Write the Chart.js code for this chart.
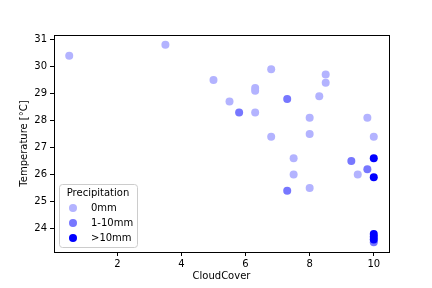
<!DOCTYPE html>
<html>
<head>
<meta charset="utf-8">
<script src="https://cdn.jsdelivr.net/npm/chart.js@4/dist/chart.umd.min.js"></script>
<style>
  html, body { margin: 0; padding: 0; background: #fff; }
  #wrap { width: 432px; height: 288px; }
</style>
</head>
<body>
<div id="wrap"><canvas id="myChart" width="432" height="288"></canvas></div>
<script>
// categories (precipitation classes) and their colours
const categories = ['0mm', '1-10mm', '>10mm'];
const colors = ['#b3b3ff', '#7777ff', '#0000ff'];

// cloud cover / temperature pairs, one pair of arrays per category
const cloud0 = [0.5, 3.5, 5, 5.5, 6.3, 6.3, 6.3, 6.8, 6.8, 7.5, 7.5, 8, 8, 8, 8.3, 8.5, 8.5, 9.5, 9.8, 10];
const temp0  = [30.4, 30.8, 29.5, 28.7, 28.3, 29.2, 29.1, 29.9, 27.4, 26.6, 26.0, 28.1, 27.5, 25.5, 28.9, 29.7, 29.4, 26.0, 28.1, 27.4];

const cloud1 = [5.8, 7.3, 7.3, 9.3, 9.8, 10];
const temp1  = [28.3, 28.8, 25.4, 26.5, 26.2, 23.5];

const cloud2 = [10, 10, 10, 10, 10];
const temp2  = [26.6, 25.9, 23.8, 23.7, 23.6];

// tick labels
const xTicks = [2, 4, 6, 8, 10];
const yTicks = [24, 25, 26, 27, 28, 29, 30, 31];

const FONT = 'DejaVu Sans';

function pts(xs, ys) {
    return xs.map((x, i) => ({ x: x, y: ys[i] }));
}

const seriesX = [cloud0, cloud1, cloud2];
const seriesY = [temp0, temp1, temp2];

// box round the plot + legend in lower left (like matplotlib)
const boxAndLegend = {
    id: 'boxAndLegend',
    afterDraw(chart) {
        const ctx = chart.ctx;
        const a = chart.chartArea;
        ctx.save();
        ctx.strokeStyle = '#000';
        ctx.lineWidth = 1;
        ctx.strokeRect(Math.round(a.left) + 0.5, Math.round(a.top) + 0.5,
                       Math.round(a.right - a.left), Math.round(a.bottom - a.top));

        // legend frame
        const lx = a.left + 5, ly = a.bottom - 68, lw = 78, lh = 63;
        ctx.beginPath();
        ctx.roundRect(lx + 0.5, ly + 0.5, lw, lh, 3);
        ctx.fillStyle = 'rgba(255,255,255,0.8)';
        ctx.fill();
        ctx.strokeStyle = '#cccccc';
        ctx.stroke();

        ctx.fillStyle = '#000';
        ctx.font = '10px "' + FONT + '"';
        ctx.textBaseline = 'middle';
        ctx.textAlign = 'center';
        ctx.fillText('Precipitation', lx + lw / 2, ly + 9);
        ctx.textAlign = 'left';
        categories.forEach((c, i) => {
            const cy = ly + 24 + i * 15;
            ctx.beginPath();
            ctx.arc(lx + 14, cy, 4, 0, Math.PI * 2);
            ctx.fillStyle = colors[i];
            ctx.fill();
            ctx.fillStyle = '#000';
            ctx.fillText(c, lx + 32, cy);
        });
        ctx.restore();
    }
};

const ctx = document.getElementById('myChart').getContext('2d');
new Chart(ctx, {
    type: 'scatter',
    data: {
        datasets: categories.map((c, i) => ({
            label: c,
            data: pts(seriesX[i], seriesY[i]),
            backgroundColor: colors[i],
            borderWidth: 0,
            pointRadius: 4,
            pointHoverRadius: 4,
            order: 2 - i
        }))
    },
    options: {
        responsive: false,
        animation: false,
        events: [],
        layout: { padding: { left: 0, right: 43, top: 35, bottom: 0 } },
        plugins: {
            legend: { display: false },
            tooltip: { enabled: false }
        },
        scales: {
            x: {
                type: 'linear',
                min: 0.025,
                max: 10.475,
                afterBuildTicks: s => { s.ticks = xTicks.map(v => ({ value: v })); },
                afterFit: s => { s.height = 36; },
                ticks: { color: '#000', font: { family: FONT, size: 10 }, padding: 2 },
                grid: { drawOnChartArea: false, drawTicks: true, tickLength: 4, color: '#000' },
                border: { display: false },
                title: { display: true, text: 'CloudCover', color: '#000',
                         font: { family: FONT, size: 10 }, padding: { top: 0, bottom: 6 } }
            },
            y: {
                type: 'linear',
                min: 23.135,
                max: 31.165,
                afterBuildTicks: s => { s.ticks = yTicks.map(v => ({ value: v })); },
                afterFit: s => { s.width = 54; },
                ticks: { color: '#000', font: { family: FONT, size: 10 }, padding: 3 },
                grid: { drawOnChartArea: false, drawTicks: true, tickLength: 4, color: '#000' },
                border: { display: false },
                title: { display: true, text: 'Temperature [°C]', color: '#000',
                         font: { family: FONT, size: 10 }, padding: { top: 18, bottom: 0 } }
            }
        }
    },
    plugins: [boxAndLegend]
});
</script>
</body>
</html>
